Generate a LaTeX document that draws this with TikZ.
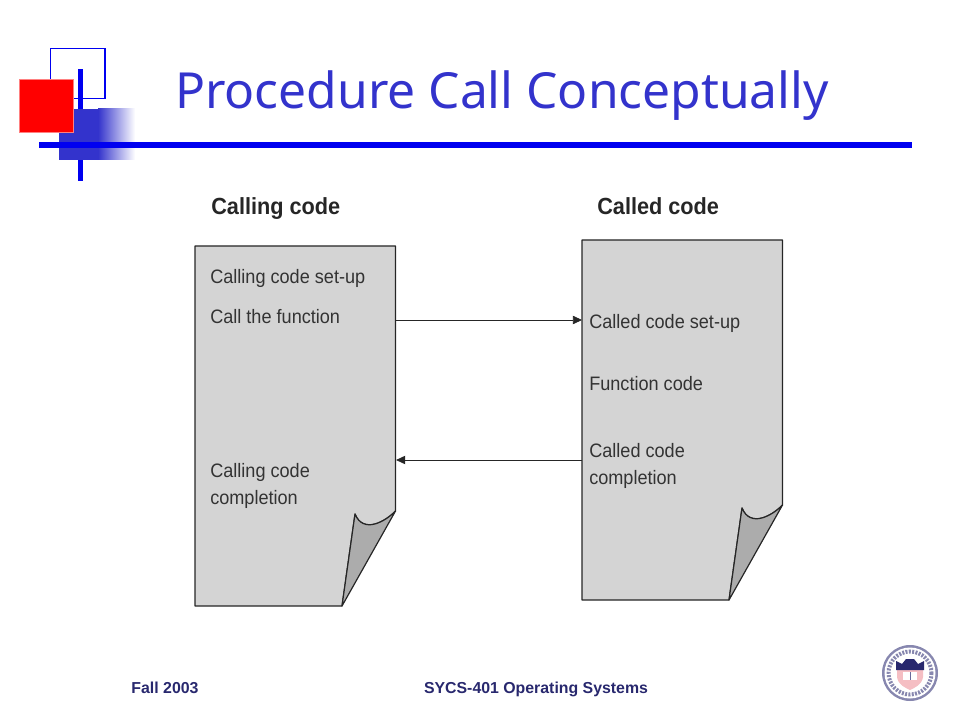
\documentclass[tikz,border=0pt]{standalone}
\usepackage{fontspec}
\setmainfont{Liberation Sans}
\newfontfamily\titlefont{Noto Sans}
\newfontfamily\pagefont[FakeStretch=0.93]{Liberation Sans}
\usetikzlibrary{arrows.meta, positioning, calc}
\definecolor{SlideBlue}{RGB}{51, 51, 204}
\definecolor{RuleBlue}{RGB}{0, 0, 240}
\definecolor{PageGray}{RGB}{212, 212, 212}
\definecolor{FoldGray}{RGB}{172, 172, 172}
\definecolor{SealRing}{RGB}{135, 135, 175}
\definecolor{SealNavy}{RGB}{40, 40, 110}
\definecolor{SealPink}{RGB}{245, 190, 195}
\tikzset{
    arrow/.style={-{Triangle[length=2.4mm, width=2.2mm]}, line width=0.6pt, color=black!85},
    pagesheet/.style={draw=black!85, line width=0.9pt, line join=round},
    pagetext/.style={font=\pagefont\fontsize{14.6}{20.2}\selectfont, text=black!80, anchor=west, align=left, inner sep=0pt},
    headtext/.style={font=\pagefont\fontsize{17.5}{20}\selectfont\bfseries, text=black!85, anchor=base west, inner sep=0pt},
    foottext/.style={font=\fontsize{11.9}{14}\selectfont\bfseries, text=SealNavy, anchor=base, inner sep=0pt},
}
\begin{document}
\begin{tikzpicture}[x=0.75pt, y=-0.75pt]
    \useasboundingbox (0,0) rectangle (960,720);

    % Corner logo
    \draw[RuleBlue, line width=1pt] (50.5,48.5) rectangle (105,98.5);
    \fill[RuleBlue] (78,69) rectangle (83,181);
    \fill[SlideBlue] (59,109) rectangle (102,160);
    \shade[left color=SlideBlue, right color=white] (98,109) rectangle (135,160);
    \fill[red, draw=red!50, line width=0.5pt] (19,79.5) rectangle (73.5,132.5);
    \fill[RuleBlue] (39,142.5) rectangle (912,148);

    % Title
    \node[font=\titlefont\fontsize{37.3}{44}\selectfont, text=SlideBlue, inner sep=0pt, anchor=base] (title) at (502,109) {Procedure Call Conceptually};

    % Pages
    \foreach \pagename/\pagex/\pagey in {callingpage/195/246, calledpage/582/240} {
        \draw[pagesheet, fill=PageGray, shift={(\pagex,\pagey)}] (0,0) -- (200.5,0) -- (200.5,265)
            .. controls (190,276) and (168,288) .. (160,268) -- (147,360) -- (0,360) -- cycle;
        \draw[pagesheet, fill=FoldGray, shift={(\pagex,\pagey)}] (200.5,265)
            .. controls (190,276) and (168,288) .. (160,268) -- (147,360) -- cycle;
        \node[inner sep=0pt, minimum width=150.4pt, minimum height=270pt, anchor=north west] (\pagename) at (\pagex,\pagey) {};
    }

    % Calling code
    \node[headtext] (callinghead) at (211,215) {Calling code};
    \node[pagetext] (callingsetup) at (210,278) {Calling code set-up};
    \node[pagetext] (callfunction) at (210,317) {Call the function};
    \node[pagetext] (callingdone) at (210,485.5) {Calling code\\completion};

    % Called code
    \node[headtext] (calledhead) at (597,215) {Called code};
    \node[pagetext] (calledsetup) at (589,323) {Called code set-up};
    \node[pagetext] (functioncode) at (589,384) {Function code};
    \node[pagetext] (calleddone) at (589,465.5) {Called code\\completion};

    % Arrows
    \coordinate (callrow) at (0,320);
    \coordinate (returnrow) at (0,460);
    \draw[arrow] (callingpage.east |- callrow) -- (calledpage.west |- callrow);
    \draw[arrow] (calledpage.west |- returnrow) -- (callingpage.east |- returnrow);

    % Footer
    \node[foottext] (term) at (165,693) {Fall 2003};
    \node[foottext] (course) at (536,693) {SYCS-401 Operating Systems};

    % Seal
    \fill[SealRing] (910,673) circle (28);
    \fill[white] (910,673) circle (25.5);
    \draw[SealRing, line width=3pt, dash pattern=on 1.5pt off 1pt] (910,673) circle (21.5);
    \fill[white] (910,673) circle (18.5);
    \fill[SealPink] (897,670) -- (923,670) -- (923,677) .. controls (922,685) and (914,688) .. (910,690) .. controls (906,688) and (898,685) .. (897,677) -- cycle;
    \fill[SealNavy] (896,661) -- (902,664) -- (906,659) -- (914,659) -- (918,664) -- (924,661) -- (924,670) -- (896,670) -- cycle;
    \fill[white] (903,672) rectangle (917,680);
    \draw[SealNavy!70, line width=0.4pt] (910,672) -- (910,680);
\end{tikzpicture}
\end{document}
